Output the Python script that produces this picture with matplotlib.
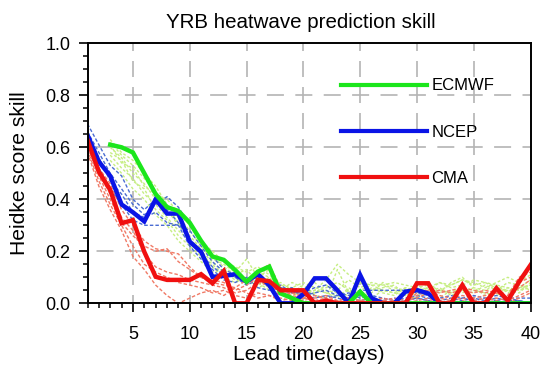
import numpy as np
import matplotlib
matplotlib.use('Agg')
import matplotlib.pyplot as plt
from matplotlib.lines import Line2D
from matplotlib.ticker import MultipleLocator

nan = np.nan
days = np.arange(1, 41)

# ---- main (thick) lines ----
ecmwf = [nan, nan, 0.61, 0.60, 0.58, 0.50, 0.42, 0.37, 0.355, 0.31,
         0.24, 0.18, 0.167, 0.128, 0.083, 0.122, 0.141, 0.038, 0.02, 0.0,
         0.0, 0.0, 0.0, 0.0, 0.045, 0.0, 0.0, 0.0, 0.0, 0.0,
         0.0, 0.0, 0.0, 0.0, 0.0, 0.0, 0.0, 0.0, 0.0, 0.0]
ncep = [0.647, 0.545, 0.49, 0.38, 0.35, 0.315, 0.40, 0.345, 0.345, 0.237,
        0.198, 0.102, 0.105, 0.112, 0.083, 0.112, 0.07, 0.0, 0.0, 0.035,
        0.096, 0.096, 0.05, 0.0, 0.109, 0.02, 0.0, 0.0, 0.045, 0.051,
        0.038, 0.0, 0.0, 0.0, 0.0, 0.0, 0.0, 0.0, 0.0, 0.0]
cma = [0.628, 0.506, 0.436, 0.308, 0.32, 0.198, 0.102, 0.09, 0.09, 0.09,
       0.112, 0.077, 0.124, 0.0, 0.0, 0.09, 0.085, 0.05, 0.05, 0.05,
       0.0, 0.01, 0.0, 0.0, 0.0, 0.0, 0.0, 0.0, 0.0, 0.077,
       0.077, 0.0, 0.0, 0.07, 0.0, 0.0, 0.058, 0.01, 0.083, 0.147]

# ---- individual (thin) lines ----
ecmwf_members = [
    [nan, nan, 0.63, 0.58, 0.55, 0.50, 0.45, 0.38, 0.33, 0.28, 0.22, 0.17, 0.15, 0.12, 0.17, 0.10, 0.13, 0.06, 0.04, 0.07,
     0.03, 0.02, 0.13, 0.04, 0.08, 0.05, 0.06, 0.07, 0.03, 0.05, 0.06, 0.04, 0.08, 0.10, 0.06, 0.05, 0.07, 0.04, 0.06, 0.09],
    [nan, nan, 0.60, 0.56, 0.50, 0.46, 0.40, 0.36, 0.30, 0.25, 0.20, 0.16, 0.12, 0.09, 0.08, 0.12, 0.10, 0.05, 0.08, 0.06,
     0.04, 0.07, 0.05, 0.09, 0.06, 0.08, 0.07, 0.05, 0.04, 0.07, 0.05, 0.08, 0.06, 0.07, 0.09, 0.08, 0.06, 0.05, 0.04, 0.08],
    [nan, nan, 0.58, 0.55, 0.47, 0.44, 0.36, 0.32, 0.26, 0.22, 0.18, 0.14, 0.10, 0.08, 0.10, 0.06, 0.08, 0.04, 0.03, 0.05,
     0.08, 0.04, 0.02, 0.06, 0.03, 0.04, 0.08, 0.06, 0.05, 0.03, 0.04, 0.06, 0.03, 0.05, 0.04, 0.07, 0.05, 0.08, 0.07, 0.05],
    [nan, nan, 0.55, 0.50, 0.44, 0.40, 0.34, 0.30, 0.24, 0.20, 0.16, 0.12, 0.13, 0.10, 0.07, 0.09, 0.06, 0.08, 0.05, 0.02,
     0.04, 0.06, 0.08, 0.05, 0.02, 0.06, 0.04, 0.03, 0.06, 0.05, 0.03, 0.02, 0.05, 0.04, 0.06, 0.03, 0.04, 0.06, 0.05, 0.06],
    [nan, nan, 0.61, 0.54, 0.52, 0.45, 0.42, 0.40, 0.35, 0.30, 0.24, 0.20, 0.16, 0.14, 0.12, 0.14, 0.11, 0.07, 0.06, 0.04,
     0.05, 0.09, 0.15, 0.11, 0.08, 0.07, 0.07, 0.08, 0.07, 0.06, 0.07, 0.05, 0.07, 0.09, 0.07, 0.08, 0.07, 0.06, 0.05, 0.07],
    [nan, nan, 0.57, 0.52, 0.48, 0.42, 0.38, 0.33, 0.28, 0.24, 0.19, 0.15, 0.11, 0.12, 0.09, 0.07, 0.10, 0.06, 0.04, 0.03,
     0.05, 0.04, 0.03, 0.05, 0.04, 0.02, 0.05, 0.04, 0.06, 0.04, 0.06, 0.08, 0.07, 0.09, 0.08, 0.06, 0.08, 0.10, 0.08, 0.11],
    [nan, nan, 0.62, 0.57, 0.53, 0.48, 0.43, 0.37, 0.31, 0.26, 0.21, 0.18, 0.14, 0.11, 0.13, 0.08, 0.05, 0.04, 0.06, 0.08,
     0.06, 0.05, 0.04, 0.03, 0.05, 0.07, 0.05, 0.04, 0.03, 0.02, 0.04, 0.05, 0.04, 0.06, 0.05, 0.04, 0.03, 0.05, 0.06, 0.07],
]
ncep_members = [
    [0.69, 0.61, 0.53, 0.49, 0.40, 0.36, 0.40, 0.36, 0.31, 0.24, 0.19, 0.14, 0.11, 0.10, 0.09, 0.10, 0.06, 0.05, 0.04, 0.04,
     0.06, 0.07, 0.04, 0.03, 0.05, 0.05, 0.05, 0.05, 0.05, 0.04, 0.03, 0.02, 0.03, 0.02, 0.03, 0.02, 0.03, 0.02, 0.02, 0.02],
    [0.65, 0.56, 0.47, 0.42, 0.35, 0.33, 0.35, 0.31, 0.30, 0.28, 0.22, 0.16, 0.12, 0.10, 0.07, 0.09, 0.08, 0.05, 0.06, 0.03,
     0.04, 0.05, 0.03, 0.04, 0.02, 0.03, 0.02, 0.01, 0.02, 0.03, 0.02, 0.01, 0.02, 0.01, 0.02, 0.01, 0.02, 0.01, 0.01, 0.0],
    [0.63, 0.52, 0.44, 0.38, 0.32, 0.30, 0.30, 0.30, 0.30, 0.22, 0.17, 0.13, 0.09, 0.08, 0.10, 0.06, 0.05, 0.07, 0.04, 0.05,
     0.03, 0.02, 0.03, 0.02, 0.01, 0.02, 0.01, 0.02, 0.01, 0.02, 0.01, 0.0, 0.01, 0.02, 0.01, 0.0, 0.01, 0.02, 0.01, 0.0],
    [0.66, 0.58, 0.50, 0.44, 0.38, 0.34, 0.38, 0.41, 0.37, 0.30, 0.24, 0.18, 0.13, 0.11, 0.08, 0.11, 0.07, 0.06, 0.05, 0.03,
     0.02, 0.03, 0.02, 0.01, 0.03, 0.02, 0.01, 0.0, 0.01, 0.02, 0.01, 0.0, 0.01, 0.0, 0.01, 0.02, 0.01, 0.0, 0.01, 0.0],
]
cma_members = [
    [0.60, 0.49, 0.40, 0.31, 0.26, 0.22, 0.20, 0.21, 0.16, 0.13, 0.10, 0.08, 0.07, 0.06, 0.09, 0.12, 0.15, 0.06, 0.04, 0.03,
     0.02, 0.03, 0.01, 0.02, 0.01, 0.02, 0.01, 0.0, 0.01, 0.02, 0.04, 0.05, 0.04, 0.05, 0.04, 0.05, 0.04, 0.03, 0.10, 0.12],
    [0.58, 0.45, 0.36, 0.28, 0.18, 0.13, 0.07, 0.03, 0.0, 0.02, 0.04, 0.05, 0.03, 0.06, 0.04, 0.02, 0.03, 0.01, 0.02, 0.01,
     0.0, 0.01, 0.0, 0.01, 0.0, 0.01, 0.0, 0.01, 0.0, 0.01, 0.02, 0.01, 0.0, 0.01, 0.0, 0.01, 0.02, 0.01, 0.03, 0.05],
    [0.62, 0.52, 0.46, 0.36, 0.30, 0.24, 0.21, 0.20, 0.19, 0.14, 0.10, 0.09, 0.08, 0.05, 0.07, 0.10, 0.06, 0.03, 0.04, 0.02,
     0.03, 0.02, 0.01, 0.02, 0.01, 0.0, 0.01, 0.02, 0.01, 0.03, 0.05, 0.04, 0.05, 0.06, 0.05, 0.04, 0.05, 0.02, 0.08, 0.10],
    [0.59, 0.47, 0.38, 0.30, 0.22, 0.15, 0.12, 0.10, 0.08, 0.07, 0.06, 0.04, 0.05, 0.03, 0.02, 0.04, 0.03, 0.02, 0.01, 0.02,
     0.01, 0.0, 0.01, 0.0, 0.01, 0.0, 0.01, 0.0, 0.01, 0.0, 0.01, 0.02, 0.01, 0.02, 0.01, 0.02, 0.01, 0.0, 0.02, 0.04],
    [0.61, 0.50, 0.42, 0.33, 0.28, 0.19, 0.14, 0.12, 0.11, 0.09, 0.08, 0.07, 0.06, 0.04, 0.05, 0.08, 0.07, 0.04, 0.03, 0.02,
     0.01, 0.02, 0.0, 0.01, 0.0, 0.01, 0.02, 0.01, 0.0, 0.04, 0.05, 0.03, 0.02, 0.03, 0.02, 0.03, 0.04, 0.02, 0.06, 0.09],
]

labels = ['ECMWF', 'NCEP', 'CMA']
xticks = [5, 10, 15, 20, 25, 30, 35, 40]
yticks = [0.0, 0.2, 0.4, 0.6, 0.8, 1.0]

plt.rcParams['font.family'] = ['Liberation Sans', 'DejaVu Sans']
plt.rcParams['lines.scale_dashes'] = False

W, H = 540, 371
fig = plt.figure(figsize=(W / 100, H / 100), dpi=100)
ax_l, ax_r, ax_t, ax_b = 87.5, 530.5, 43.3, 303.3
ax = fig.add_axes([ax_l / W, 1 - ax_b / H, (ax_r - ax_l) / W, (ax_b - ax_t) / H])

c_main = {'ECMWF': '#1be61b', 'NCEP': '#0a14e6', 'CMA': '#f01010'}
c_thin = {'ECMWF': '#c6ee82', 'NCEP': '#4a6cd2', 'CMA': '#f07a66'}

for m in ecmwf_members:
    ax.plot(days, m, color=c_thin['ECMWF'], lw=1.0, ls=(0, (2.0, 1.5)), zorder=2)
for m in ncep_members:
    ax.plot(days, m, color=c_thin['NCEP'], lw=1.0, ls=(0, (2.5, 1.5)), zorder=2)
for m in cma_members:
    ax.plot(days, m, color=c_thin['CMA'], lw=1.0, ls=(0, (2.5, 1.5)), zorder=2)

ax.plot(days, ncep, color=c_main['NCEP'], lw=3.2, zorder=4, solid_joinstyle='miter')
ax.plot(days, ecmwf, color=c_main['ECMWF'], lw=3.2, zorder=4, solid_joinstyle='miter')
ax.plot(days, cma, color=c_main['CMA'], lw=3.2, zorder=5, solid_joinstyle='miter')

ax.set_xlim(1, 40)
ax.set_ylim(0, 1.0)
ax.set_xticks(xticks)
ax.set_yticks(yticks)
ax.set_yticklabels([f'{v:.1f}' for v in yticks])
ax.xaxis.set_minor_locator(MultipleLocator(1))
ax.yaxis.set_minor_locator(MultipleLocator(0.05))

# dashed grid with dashes centred on intersections
pt = 0.72
xstep_px = 5 * (ax_r - ax_l) / 39
ystep_px = 0.2 * (ax_b - ax_t)
on_v, off_v = 16, ystep_px / 2 - 16
on_h, off_h = 17, xstep_px / 2 - 17
off_start_h = (on_h / 2 - 4 * (ax_r - ax_l) / 39) % (xstep_px / 2)
gcol = '#b4b4b4'
for gx in [5, 10, 15, 20, 25, 30, 35]:
    ax.axvline(gx, color=gcol, lw=1.2, zorder=1,
               ls=(on_v / 2 * pt, (on_v * pt, off_v * pt)))
for gy in [0.2, 0.4, 0.6, 0.8]:
    ax.axhline(gy, color=gcol, lw=1.2, zorder=1,
               ls=(off_start_h * pt, (on_h * pt, off_h * pt)))

for s in ax.spines.values():
    s.set_linewidth(1.4)
    s.set_zorder(6)

ax.tick_params(which='major', direction='out', length=6.7, width=1.2,
               labelsize=13, top=False, right=False)
ax.tick_params(which='minor', direction='out', length=3.6, width=1.1,
               top=False, right=False)
ax.tick_params(axis='x', which='major', pad=10)
ax.tick_params(axis='y', which='major', pad=5.4)

ax.set_xlabel('Lead time(days)', fontsize=15.2)
ax.xaxis.label.set_va('center')
ax.xaxis.set_label_coords(0.5, (ax_b - 355) / (ax_b - ax_t))
ax.set_ylabel('Heidke score skill', fontsize=15.2)
ax.yaxis.label.set_va('center')
ax.yaxis.set_label_coords((20 - ax_l) / (ax_r - ax_l), 0.5)

fig.text(301 / W, 1 - 23 / H, 'YRB heatwave prediction skill',
         ha='center', va='center', fontsize=14.8)

handles = [Line2D([], [], color=c_main[k], lw=3.0) for k in labels]
ax.legend(handles, labels, loc='upper left',
          bbox_to_anchor=((340.7 - ax_l) / (ax_r - ax_l), (ax_b - 78.5) / (ax_b - ax_t)),
          frameon=False, fontsize=12, handlelength=5.15, handletextpad=0.28,
          labelspacing=1.88, borderpad=0, borderaxespad=0)

fig.savefig('out.png', dpi=100)
